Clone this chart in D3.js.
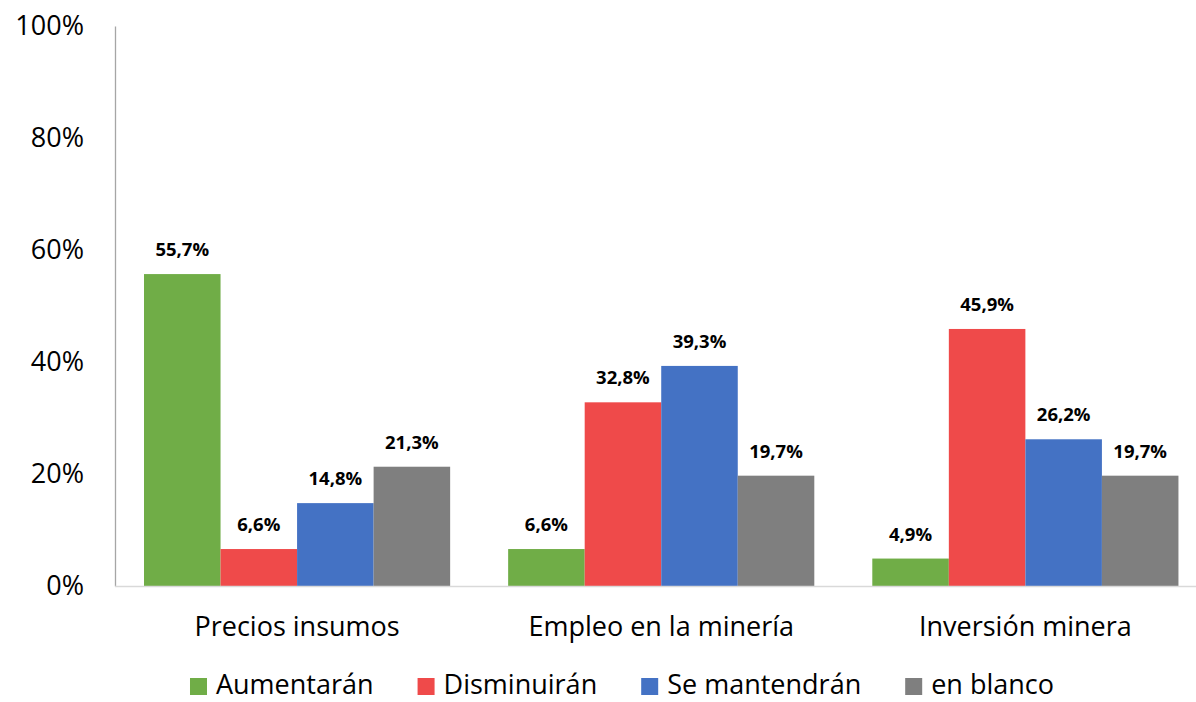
<!DOCTYPE html>
<html><head><meta charset="utf-8">
<script src="https://cdn.jsdelivr.net/npm/d3@7"></script>
<style>body{margin:0;background:#fff}svg{display:block}text{font-family:"Open Sans",Lato,sans-serif}</style>
</head><body><svg id="c" width="1196" height="702"></svg>
<script>
const categories = ["Precios insumos", "Empleo en la minería", "Inversión minera"];
const seriesNames = ["Aumentarán", "Disminuirán", "Se mantendrán", "en blanco"];
const aumentaran = [55.7, 6.6, 4.9];
const disminuiran = [6.6, 32.8, 45.9];
const mantendran = [14.8, 39.3, 26.2];
const enBlanco = [21.3, 19.7, 19.7];
const yTicks = [0, 20, 40, 60, 80, 100];
const colors = ["#70AD47", "#EF4A4A", "#4472C4", "#7F7F7F"];

const seriesValues = [aumentaran, disminuiran, mantendran, enBlanco];
const svg = d3.select("#c");
const FONT = "'Open Sans', Lato, sans-serif";
const leftX = 115, bottomY = 586, topY = 26, band = 364.15;
const x0 = d3.scaleBand().domain(categories).range([leftX, leftX + band * categories.length]).paddingInner(0).paddingOuter(0);
const x1 = d3.scaleBand().domain(seriesNames).range([29, band - 29]).padding(0);
const y = d3.scaleLinear().domain([0, 100]).range([bottomY, topY]);

// y axis
const yAxis = svg.append("g").attr("transform", `translate(${leftX},0)`)
  .call(d3.axisLeft(y).tickValues(yTicks).tickSize(0).tickPadding(31).tickFormat(d => d + "%"));
yAxis.select(".domain").attr("stroke", "#A6A6A6").attr("stroke-width", 1.3);
yAxis.selectAll("text").attr("font-size", 27).attr("fill", "#000").style("font-family", FONT);

// bars
const rows = categories.map((c, i) => ({c, vals: seriesNames.map((s, j) => ({s, v: seriesValues[j][i], j}))}));
const g = svg.append("g");
const grp = g.selectAll("g.grp").data(rows).join("g").attr("transform", d => `translate(${x0(d.c)},0)`);
grp.selectAll("rect").data(d => d.vals).join("rect")
  .attr("x", d => x1(d.s)).attr("width", x1.bandwidth())
  .attr("y", d => y(d.v)).attr("height", d => y(0) - y(d.v))
  .attr("fill", d => colors[d.j]);
grp.selectAll("text.lbl").data(d => d.vals).join("text").attr("class", "lbl")
  .attr("x", d => x1(d.s) + x1.bandwidth() / 2).attr("y", d => y(d.v) - 18)
  .attr("text-anchor", "middle").attr("font-size", 18.5).attr("font-weight", "bold").attr("fill", "#000")
  .text(d => d.v.toFixed(1).replace(".", ",") + "%");

// x axis baseline
const xAxis = svg.append("g").attr("transform", `translate(0,${bottomY})`)
  .call(d3.axisBottom(x0).tickSize(0).tickPadding(31));
xAxis.select(".domain").remove();
svg.append("line").attr("x1", leftX).attr("x2", 1196).attr("y1", bottomY + 0.5).attr("y2", bottomY + 0.5)
  .attr("stroke", "#D9D9D9").attr("stroke-width", 1.5);
xAxis.selectAll("text").attr("font-size", 27).attr("fill", "#000").style("font-family", FONT);

// legend
const leg = svg.append("g");
let lx = 0;
seriesNames.forEach((s, j) => {
  const it = leg.append("g");
  it.append("rect").attr("x", lx).attr("y", 678).attr("width", 17).attr("height", 17).attr("fill", colors[j]);
  const t = it.append("text").attr("x", lx + 26).attr("y", 694).attr("font-size", 27).attr("fill", "#000").text(s);
  lx += 26 + t.node().getComputedTextLength() + 44;
});
const legW = lx - 44;
leg.attr("transform", `translate(${622 - legW / 2},0)`);
</script></body></html>
